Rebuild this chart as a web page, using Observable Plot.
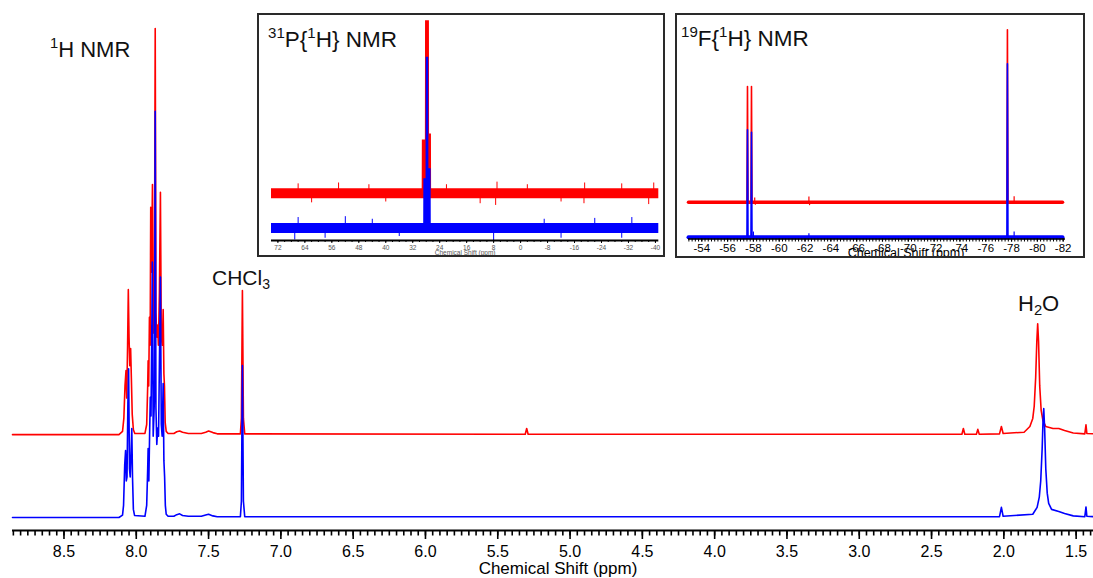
<!DOCTYPE html>
<html><head><meta charset="utf-8">
<script src="https://cdn.jsdelivr.net/npm/d3@7"></script>
<script src="https://cdn.jsdelivr.net/npm/@observablehq/plot@0.6"></script>
<style>
body{margin:0;background:#fff}
#wrap{position:relative;width:1093px;height:578px;font-family:"Liberation Sans",Arial,sans-serif;overflow:hidden;background:#fff}
.box{position:absolute;box-sizing:border-box;border:2px solid #2a2a2a;background:#fff;overflow:hidden}
.box svg{display:block}
.lab{position:absolute;white-space:nowrap;color:#111}
.sup{font-size:0.67em;position:relative;top:-0.6em}
.sub{font-size:0.67em;position:relative;top:0.28em}
</style></head><body><div id="wrap"></div>
<script>
// ---------- 1H NMR (ppm, intensity; tallest peak = 100) ----------
const h1Red = [[8.856,0],[8.12,0],[8.095,0.8],[8.086,4],[8.078,12],[8.071,15.8],[8.066,9],[8.060,22],[8.055,35.7],[8.050,24],[8.045,17],[8.039,21.2],[8.034,14],[8.028,5],[8.020,1.2],[8.010,0.3],[7.94,0.3],[7.928,2.5],[7.921,12],[7.918,18.2],[7.914,12],[7.909,28.9],[7.904,22],[7.900,56],[7.895,40],[7.888,61.6],[7.883,25],[7.878,28],[7.874,40],[7.869,100],[7.864,30],[7.858,24],[7.852,27],[7.847,22],[7.840,35],[7.833,59.7],[7.827,24],[7.820,22],[7.814,30.8],[7.809,15],[7.805,12],[7.800,3],[7.793,0.8],[7.78,0.3],[7.74,0.3],[7.72,0.7],[7.70,0.9],[7.68,0.6],[7.64,0.3],[7.55,0.3],[7.52,0.6],[7.50,0.9],[7.47,0.5],[7.44,0.2],[7.28,0.2],[7.273,4],[7.266,35.5],[7.259,4],[7.25,0.2],[5.31,0.1],[5.30,1.5],[5.29,0.1],[2.29,0.1],[2.28,1.5],[2.27,0.1],[2.19,0.1],[2.18,1.3],[2.17,0.1],[2.03,0.2],[2.017,2.0],[2.005,0.3],[1.86,0.6],[1.82,2],[1.80,4],[1.79,7],[1.78,14],[1.772,23],[1.766,27.3],[1.760,23],[1.752,12],[1.742,6],[1.73,3.5],[1.71,2.0],[1.66,1.5],[1.62,1.5],[1.58,1.0],[1.52,0.4],[1.44,0.2],[1.432,2.4],[1.426,0.3],[1.38,0.2]];
const h1Blue = [[8.856,0],[8.12,0],[8.095,0.6],[8.088,3],[8.080,13],[8.074,16.5],[8.069,9],[8.064,10],[8.058,28],[8.053,36.6],[8.047,12],[8.042,10],[8.036,16],[8.031,21.9],[8.026,10],[8.020,2],[8.012,0.5],[7.94,0.3],[7.928,3],[7.921,12],[7.918,17],[7.913,9],[7.908,20],[7.903,29.6],[7.898,25],[7.893,45],[7.889,62.9],[7.883,20],[7.878,25],[7.874,30],[7.869,100],[7.864,27],[7.858,18],[7.852,22],[7.846,20],[7.840,38],[7.833,59.2],[7.827,23],[7.821,20],[7.814,33],[7.809,14],[7.804,10],[7.799,3],[7.793,0.8],[7.78,0.3],[7.74,0.3],[7.72,0.7],[7.70,0.9],[7.68,0.5],[7.64,0.3],[7.55,0.3],[7.52,0.6],[7.50,0.8],[7.47,0.4],[7.44,0.2],[7.28,0.2],[7.273,4],[7.266,37.4],[7.259,4],[7.25,0.2],[2.03,0.2],[2.017,2.5],[2.005,0.3],[1.80,0.8],[1.77,2.5],[1.755,5],[1.745,9],[1.735,17],[1.729,24],[1.724,26.8],[1.718,22],[1.71,12],[1.70,6],[1.69,3.5],[1.67,2.0],[1.62,1.5],[1.58,1.0],[1.52,0.4],[1.44,0.2],[1.432,2.6],[1.426,0.3],[1.38,0.2]];
const h1Major = [8.5,8.0,7.5,7.0,6.5,6.0,5.5,5.0,4.5,4.0,3.5,3.0,2.5,2.0,1.5];
const h1Title = "Chemical Shift (ppm)";

// ---------- 31P{1H} inset ----------
const p31Red = [[73.9,0],[29.2,0],[29.15,30.9],[28.25,30.9],[28.2,100],[27.05,100],[27.0,34.4],[26.45,34.4],[26.4,0],[-41,0]];
const p31Blue = [[73.9,0],[28.75,0],[28.7,28.4],[28.05,28.4],[28.0,98.8],[27.25,98.8],[27.2,34.2],[26.55,34.2],[26.5,0],[-41,0]];
const p31RedSpikes = [[66,5.5],[62,-5.5],[54,6],[45,5],[40,-5],[22,5],[12,-6],[7,6.5],[7.4,-7],[-2,5],[-12,-5],[-19,6],[-18.8,-6],[-30,5.5],[-38,-6.5],[-39.5,6]];
const p31BlueSpikes = [[67,-7],[66,6],[58,-6],[52,6.5],[44,5],[36,-5],[8,-7.5],[-7,5],[-12,-6],[-22,5.5],[-30,-6],[-33,6]];
const p31Ticks = [72,64,56,48,40,32,24,16,8,0,-8,-16,-24,-32,-40];

// ---------- 19F{1H} inset ----------
const f19Red = [[-52.97,0],[-57.50,0],[-57.54,67.1],[-57.58,0],[-57.81,0],[-57.85,67.1],[-57.89,0],[-77.64,0],[-77.68,100],[-77.72,0],[-81.95,0]];
const f19Blue = [[-52.97,0],[-57.50,0],[-57.54,62.3],[-57.58,0],[-57.81,0],[-57.85,60.9],[-57.89,0],[-77.64,0],[-77.68,100.6],[-77.72,0],[-81.95,0]];
const f19RedSpikes = [[-58.1,2.5],[-58.15,-1.8],[-62.3,3],[-62.35,-2],[-78.2,3.2]];
const f19BlueSpikes = [[-58.0,3],[-62.3,2],[-78.2,3]];
const f19Ticks = [-54,-56,-58,-60,-62,-64,-66,-68,-70,-72,-74,-76,-78,-80,-82];

const FONT = '"Liberation Sans", Arial, sans-serif';
const RED = "#ff0000", BLUE = "#0000ff";
const H1_OFF = 20.4, P31_OFF = 20.0, F19_OFF = 20.3;
const fmt = d => String(d);

const wrap = document.getElementById("wrap");

// ---- main 1H plot ----
const h1Y = [-3.2, 127.3];
const main = Plot.plot({
  width: 1093, height: 578,
  marginLeft: 12, marginRight: 0, marginTop: 0, marginBottom: 48,
  style: {fontFamily: FONT, background: "transparent", overflow: "visible", color: "#000"},
  x: {domain: [8.856, 1.38]},
  y: {domain: h1Y, axis: null},
  marks: [
    Plot.line(h1Red, {x: d => d[0], y: d => d[1] + H1_OFF, stroke: RED, strokeWidth: 1.6}),
    Plot.line(h1Blue, {x: d => d[0], y: d => d[1], stroke: BLUE, strokeWidth: 1.6}),
    Plot.axisX({ticks: d3.range(140, 886, 5).map(d => d / 100), tickSize: 5.5, strokeWidth: 1.6, tickFormat: () => "", label: null}),
    Plot.axisX({ticks: h1Major, tickSize: 9, strokeWidth: 1.6, tickPadding: 6, fontSize: 16, tickFormat: d3.format(".1f"), label: null}),
    Plot.ruleY([h1Y[0]], {strokeWidth: 2.2}),
    Plot.text([h1Title], {frameAnchor: "bottom", dy: 43, dx: 5, fontSize: 17})
  ]
});
main.style.position = "absolute"; main.style.left = "0px"; main.style.top = "0px";
wrap.appendChild(main);

// ---- 31P inset ----
const p31Y = [-7.3, 123];
const p31 = Plot.plot({
  width: 404, height: 240,
  marginLeft: 12, marginRight: 4.7, marginTop: 0, marginBottom: 15,
  style: {fontFamily: FONT, background: "white", overflow: "visible"},
  x: {domain: [73.9, -41]},
  y: {domain: p31Y, axis: null},
  marks: [
    Plot.ruleY([P31_OFF], {stroke: RED, strokeWidth: 10}),
    Plot.ruleX(p31RedSpikes, {x: d => d[0], y1: P31_OFF, y2: d => P31_OFF + d[1], stroke: RED, strokeWidth: 1}),
    Plot.areaY(p31Red, {x: d => d[0], y1: P31_OFF, y2: d => d[1] + P31_OFF, fill: RED}),
    Plot.ruleY([0], {stroke: BLUE, strokeWidth: 10}),
    Plot.ruleX(p31BlueSpikes, {x: d => d[0], y1: 0, y2: d => d[1], stroke: BLUE, strokeWidth: 1}),
    Plot.areaY(p31Blue, {x: d => d[0], y1: 0, y2: d => d[1], fill: BLUE}),
    Plot.axisX({ticks: d3.range(-40, 74, 2), tickSize: 2, strokeWidth: 1, tickFormat: () => "", label: null}),
    Plot.axisX({ticks: p31Ticks, tickSize: 3, strokeWidth: 1, tickPadding: 1.5, fontSize: 6.5, fill: "#555", tickFormat: fmt, label: null}),
    Plot.ruleY([p31Y[0]], {strokeWidth: 2}),
    Plot.text([h1Title], {frameAnchor: "bottom", dy: 14, fontSize: 6.5, fill: "#555"})
  ]
});
const box31 = document.createElement("div");
box31.className = "box";
Object.assign(box31.style, {left: "257px", top: "13px", width: "408px", height: "244px"});
box31.appendChild(p31);
wrap.appendChild(box31);

// ---- 19F inset ----
const f19Y = [-1.04, 128.6];
const f19 = Plot.plot({
  width: 406, height: 241,
  marginLeft: 11, marginRight: 18, marginTop: 0, marginBottom: 17.5,
  style: {fontFamily: FONT, background: "white", overflow: "visible"},
  x: {domain: [-52.97, -82.18]},
  y: {domain: f19Y, axis: null},
  marks: [
    Plot.line(f19Red, {x: d => d[0], y: d => d[1] + F19_OFF, stroke: RED, strokeWidth: 1.6}),
    Plot.line(f19Red, {x: d => d[0], y: F19_OFF, stroke: RED, strokeWidth: 3.5}),
    Plot.ruleX(f19RedSpikes, {x: d => d[0], y1: F19_OFF, y2: d => F19_OFF + d[1], stroke: RED, strokeWidth: 1.2}),
    Plot.line(f19Blue, {x: d => d[0], y: d => d[1], stroke: BLUE, strokeWidth: 1.6}),
    Plot.line(f19Blue, {x: d => d[0], y: 0, stroke: BLUE, strokeWidth: 4}),
    Plot.ruleX(f19BlueSpikes, {x: d => d[0], y1: 0, y2: d => d[1], stroke: BLUE, strokeWidth: 1.2}),
    Plot.axisX({ticks: d3.range(-8200, -5290, 25).map(d => d / 100), tickSize: 3, strokeWidth: 1, tickFormat: () => "", label: null}),
    Plot.axisX({ticks: f19Ticks, tickSize: 3, strokeWidth: 1.2, tickPadding: 2, fontSize: 11.5, tickFormat: fmt, label: null}),
    Plot.ruleY([f19Y[0]], {strokeWidth: 1.6}),
    Plot.text([h1Title], {frameAnchor: "bottom", dy: 17.5, dx: 29, fontSize: 12.5})
  ]
});
const box19 = document.createElement("div");
box19.className = "box";
Object.assign(box19.style, {left: "675px", top: "13px", width: "410px", height: "245px"});
box19.appendChild(f19);
wrap.appendChild(box19);

// ---- labels ----
const labels = [
  {html: '<span class="sup">1</span>H NMR', left: 50, top: 39, size: 22},
  {html: 'CHCl<span class="sub">3</span>', left: 212, top: 267, size: 21},
  {html: 'H<span class="sub">2</span>O', left: 1018, top: 293, size: 22},
  {html: '<span class="sup">31</span>P{<span class="sup">1</span>H} NMR', left: 268, top: 29.2, size: 22.5},
  {html: '<span class="sup">19</span>F{<span class="sup">1</span>H} NMR', left: 681, top: 28.2, size: 22.5}
];
for (const l of labels) {
  const d = document.createElement("div");
  d.className = "lab";
  d.innerHTML = l.html;
  d.style.left = l.left + "px";
  d.style.top = l.top + "px";
  d.style.fontSize = l.size + "px";
  d.style.lineHeight = l.size + "px";
  wrap.appendChild(d);
}
</script></body></html>
